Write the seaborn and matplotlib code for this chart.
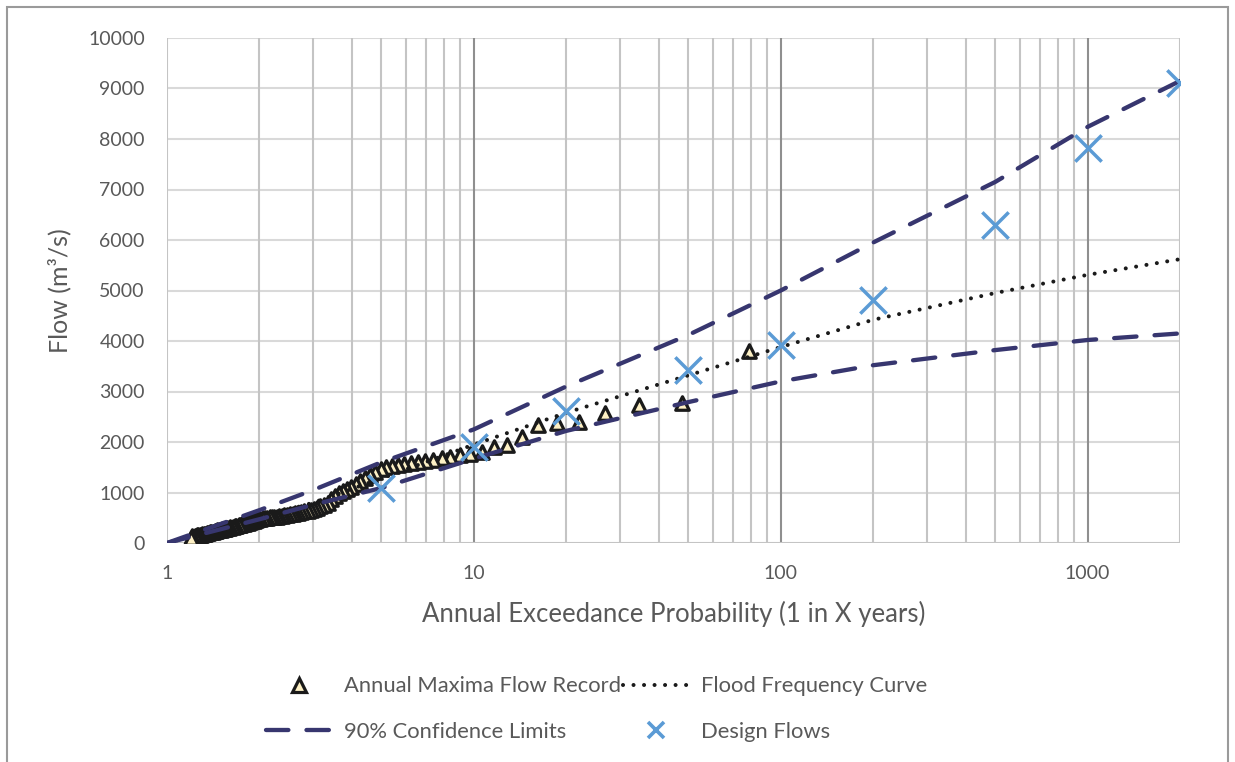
import numpy as np
import pandas as pd
import matplotlib
matplotlib.use("Agg")
import matplotlib.pyplot as plt
from matplotlib.lines import Line2D
from matplotlib.patches import Rectangle
import seaborn as sns

# Annual maxima record: return period (years) and peak flow (m3/s)
am_return_period = [
    78.7, 47.8, 34.4, 26.8, 22.0, 18.6, 16.2, 14.3, 12.8, 11.6,
    10.6, 9.72, 9.00, 8.38, 7.85, 7.37, 6.95, 6.58, 6.24, 5.94,
    5.66, 5.41, 5.18, 4.97, 4.77, 4.60, 4.43, 4.27, 4.13, 3.99,
    3.87, 3.75, 3.64, 3.53, 3.43, 3.34, 3.25, 3.16, 3.08, 3.01,
    2.94, 2.87, 2.80, 2.74, 2.68, 2.62, 2.57, 2.51, 2.46, 2.41,
    2.37, 2.32, 2.28, 2.24, 2.20, 2.16, 2.12, 2.08, 2.05, 2.01,
    1.98, 1.95, 1.92, 1.89, 1.86, 1.83, 1.81, 1.78, 1.75, 1.73,
    1.71, 1.68, 1.66, 1.64, 1.61, 1.59, 1.57, 1.55, 1.53, 1.51,
    1.50, 1.48, 1.46, 1.44, 1.43, 1.41, 1.39, 1.38, 1.36, 1.35,
    1.33, 1.32, 1.30, 1.29, 1.28, 1.26, 1.25, 1.24, 1.23, 1.21,
    1.20,
]
am_flow = [
    3800, 2780, 2740, 2580, 2390, 2380, 2340, 2100, 1950, 1910,
    1800, 1760, 1740, 1710, 1680, 1650, 1630, 1610, 1590, 1570,
    1550, 1530, 1510, 1470, 1400, 1340, 1280, 1220, 1160, 1100,
    1060, 1020, 990, 930, 870, 800, 760, 730, 700, 670,
    650, 640, 630, 610, 600, 590, 580, 570, 560, 550,
    540, 530, 520, 515, 510, 505, 500, 495, 490, 480,
    470, 455, 440, 430, 420, 405, 395, 385, 375, 365,
    355, 345, 335, 325, 315, 305, 295, 285, 278, 270,
    262, 255, 248, 240, 232, 225, 218, 210, 202, 195,
    188, 180, 172, 165, 160, 155, 150, 145, 140, 130,
    100,
]

# Fitted flood frequency curve and its 90% confidence limits
curve_return_period = [1, 2, 3, 5, 10, 20, 50, 100, 200, 500, 1000, 2000]
ffc_flow = [0, 500, 800, 1280, 1950, 2580, 3320, 3880, 4420, 4950, 5310, 5620]
upper_limit = [0, 650, 1050, 1600, 2250, 3100, 4120, 5000, 5950, 7150, 8240, 9150]
lower_limit = [0, 470, 760, 1090, 1670, 2220, 2790, 3200, 3520, 3820, 4020, 4150]

# Design flows
design_return_period = [5, 10, 20, 50, 100, 200, 500, 1000, 2000]
design_flow = [1080, 1900, 2610, 3430, 3920, 4810, 6300, 7830, 9110]

sns.set_theme(style="white")
plt.rcParams["font.family"] = ["Lato", "DejaVu Sans"]

TEXT_GREY = "#595959"
NAVY = "#37366f"
BLUE = "#5b9bd5"
TRI_FACE = "#fdf0c4"
TRI_EDGE = "#1a1a1a"

fig = plt.figure(figsize=(12.35, 7.62), dpi=100)
ax = fig.add_axes([167 / 1235, 1 - 543 / 762, (1180 - 167) / 1235, (543 - 38) / 762])

am = pd.DataFrame({"T": am_return_period, "Q": am_flow})
curves = pd.DataFrame({"T": curve_return_period, "ffc": ffc_flow,
                       "upper": upper_limit, "lower": lower_limit})
design = pd.DataFrame({"T": design_return_period, "Q": design_flow})

sns.scatterplot(data=am, x="T", y="Q", marker="^", s=95, color=TRI_FACE,
                edgecolor=TRI_EDGE, linewidth=2.3, zorder=3, ax=ax, legend=False)

dotted = (0, (0.01, 2.6))
dashed = (0, (5.2, 4.2))
sns.lineplot(data=curves, x="T", y="ffc", color=TRI_EDGE, lw=2.9,
             linestyle=dotted, dash_capstyle="round", estimator=None, sort=False,
             zorder=4, ax=ax, legend=False)

for col in ["upper", "lower"]:
    sns.lineplot(data=curves, x="T", y=col, color=NAVY, lw=3.1,
                 linestyle=dashed, dash_capstyle="round", estimator=None,
                 sort=False, zorder=4, ax=ax, legend=False)

sns.scatterplot(data=design, x="T", y="Q", marker="x", s=360, color=BLUE,
                linewidth=2.5, zorder=5, ax=ax, legend=False)

# Axes scales, grid and ticks
ax.set_xscale("log")
ax.set_xlim(1, 2000)
ax.set_ylim(0, 10000)
ax.set_yticks(range(0, 10001, 1000))
ax.set_xticks([1, 10, 100, 1000])
ax.set_xticklabels(["1", "10", "100", "1000"])
ax.xaxis.set_minor_locator(matplotlib.ticker.LogLocator(base=10, subs=np.arange(2, 10)))
ax.xaxis.set_minor_formatter(matplotlib.ticker.NullFormatter())

ax.grid(False)
for v in [1, 2, 3, 4, 5, 6, 7, 8, 9, 20, 30, 40, 50, 60, 70, 80, 90,
          200, 300, 400, 500, 600, 700, 800, 900, 2000]:
    ax.axvline(v, color="#c4c4c4", lw=1.5, zorder=1)
for v in [10, 100, 1000]:
    ax.axvline(v, color="#8f8f8f", lw=1.5, zorder=1)
for h in range(1000, 10001, 1000):
    ax.axhline(h, color="#d9d9d9", lw=1.5, zorder=0.9)
ax.axhline(0, color="#c4c4c4", lw=1.5, zorder=1)

for s in ax.spines.values():
    s.set_visible(False)

ax.tick_params(axis="both", which="both", length=0, colors=TEXT_GREY, labelsize=14)
ax.tick_params(axis="y", pad=16)
ax.tick_params(axis="x", pad=16)

ax.set_xlabel("Annual Exceedance Probability (1 in X years)", fontsize=18.5, color=TEXT_GREY)
ax.set_ylabel("Flow (m³/s)", fontsize=18, color=TEXT_GREY)
ax.xaxis.set_label_coords(0.5, -0.141)
ax.xaxis.label.set_va("center")
ax.yaxis.set_label_coords(-0.106, 0.5)
ax.yaxis.label.set_va("center")

# Legend
handles = [
    Line2D([], [], marker="^", ls="none", markersize=9.5, markerfacecolor=TRI_FACE,
           markeredgecolor=TRI_EDGE, markeredgewidth=2.3),
    Line2D([], [], color=NAVY, lw=3.1, linestyle=dashed, dash_capstyle="round"),
    Line2D([], [], color=TRI_EDGE, lw=2.9, linestyle=dotted, dash_capstyle="round"),
    Line2D([], [], marker="x", ls="none", markersize=11, color=BLUE, markeredgewidth=2.6),
]
labels = ["Annual Maxima Flow Record", "90% Confidence Limits",
          "Flood Frequency Curve", "Design Flows"]
leg = fig.legend(handles, labels, ncol=2, loc="center",
                 bbox_to_anchor=(597 / 1235, 1 - 709 / 762), frameon=False,
                 fontsize=15.8, handlelength=3.0, handletextpad=0.55,
                 columnspacing=0.1, labelspacing=1.15, labelcolor=TEXT_GREY)

# Chart frame
fig.patches.append(Rectangle((7 / 1235, -0.05), (1228 - 7) / 1235, 1.05 - 7 / 762,
                             transform=fig.transFigure, fill=False,
                             edgecolor="#9a9a9a", lw=1.5))

fig.savefig("out.png", dpi=100)
